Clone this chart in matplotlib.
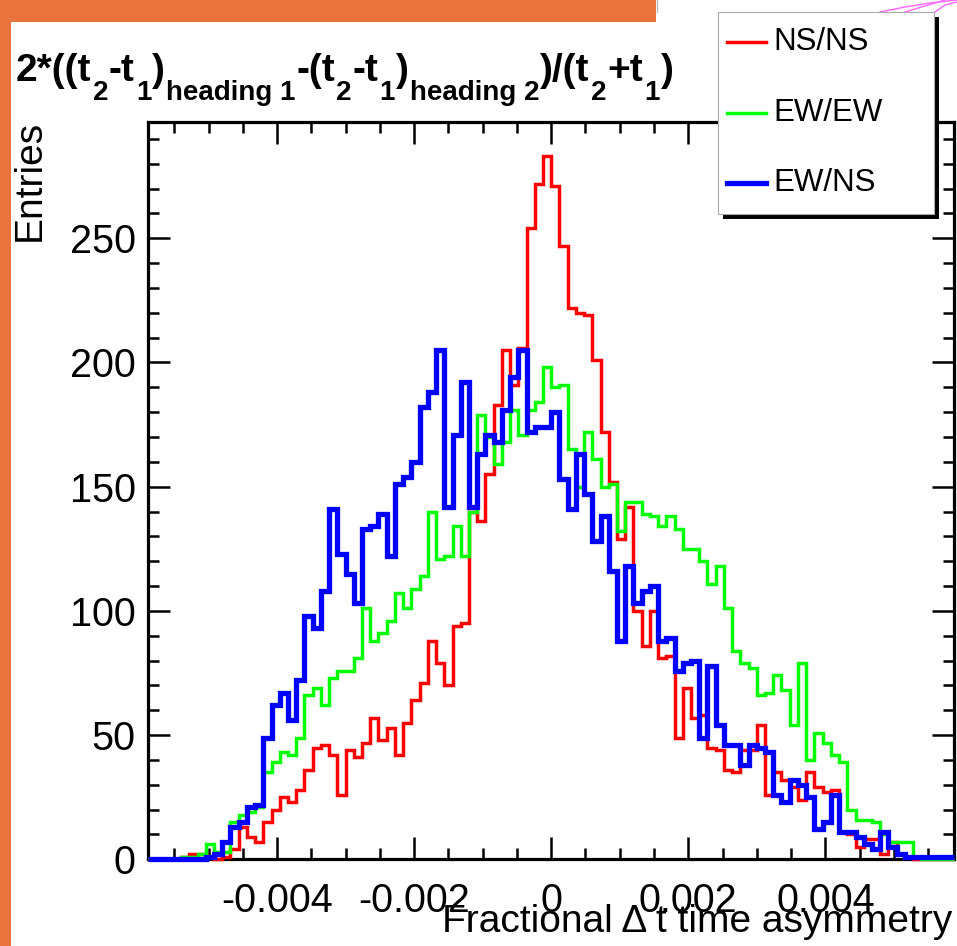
import numpy as np
import matplotlib
matplotlib.use("Agg")
import matplotlib.pyplot as plt
from matplotlib.patches import Rectangle
from matplotlib.lines import Line2D
from matplotlib.ticker import MultipleLocator, FixedLocator

# ---------------- data ----------------
x_range = (-0.00588, 0.00588)
n_bins = 98

ns_ns = [0, 0, 0, 0, 1, 2, 2, 1, 0, 1,
         4, 13, 9, 7, 15, 20, 25, 23, 28, 36,
         45, 46, 42, 26, 44, 41, 47, 57, 48, 53,
         42, 55, 64, 71, 88, 79, 70, 94, 95, 140,
         136, 155, 183, 205, 191, 206, 254, 272, 283, 271,
         247, 222, 220, 219, 201, 172, 152, 129, 142, 100,
         86, 100, 81, 82, 49, 69, 57, 58, 45, 44,
         36, 35, 44, 44, 54, 26, 35, 32, 29, 24,
         35, 29, 27, 28, 11, 10, 5, 8, 8, 2,
         7, 2, 1, 0, 0, 0, 0, 0]

ew_ew = [0, 0, 0, 0, 1, 1, 2, 6, 3, 3,
         15, 18, 19, 21, 35, 39, 43, 42, 49, 66,
         69, 62, 73, 76, 76, 81, 101, 88, 91, 96,
         107, 101, 109, 114, 140, 121, 122, 134, 122, 140,
         179, 170, 159, 168, 181, 171, 181, 184, 198, 190,
         191, 165, 150, 172, 161, 150, 151, 132, 144, 144,
         139, 138, 134, 138, 133, 125, 125, 120, 111, 118,
         101, 84, 79, 77, 66, 67, 74, 68, 54, 79,
         40, 51, 47, 42, 39, 20, 16, 16, 15, 10,
         7, 7, 7, 1, 0, 0, 0, 0]

ew_ns = [0, 0, 0, 0, 0, 0, 0, 1, 2, 7,
         13, 15, 21, 22, 49, 62, 67, 56, 72, 98,
         93, 108, 141, 123, 115, 103, 133, 134, 139, 122,
         151, 154, 160, 182, 188, 205, 142, 171, 192, 142,
         163, 171, 168, 181, 194, 205, 172, 174, 174, 180,
         153, 141, 163, 147, 128, 138, 116, 88, 118, 103,
         108, 110, 88, 89, 76, 79, 80, 49, 78, 54,
         46, 46, 38, 46, 45, 43, 26, 23, 32, 30,
         25, 12, 15, 26, 11, 11, 9, 6, 4, 11,
         5, 2, 1, 1, 1, 1, 1, 1]

series_names = ["NS/NS", "EW/EW", "EW/NS"]
series_colors = ["#ff0000", "#00ff00", "#0000ff"]
x_tick_values = [-0.004, -0.002, 0.0, 0.002, 0.004]
x_tick_labels = ["-0.004", "-0.002", "0", "0.002", "0.004"]
y_tick_values = [0, 50, 100, 150, 200, 250]
y_tick_labels = ["0", "50", "100", "150", "200", "250"]
x_label = "Fractional \u0394 t time asymmetry"
y_label = "Entries"
title_pieces = [("2*((t", "n"), ("2", "s"), ("-t", "n"), ("1", "s"), (")", "n"),
                ("heading 1", "s"), ("-(t", "n"), ("2", "s"), ("-t", "n"), ("1", "s"),
                (")", "n"), ("heading 2", "s"), (")/(t", "n"), ("2", "s"), ("+t", "n"),
                ("1", "s"), (")", "n")]

# ---------------- figure ----------------
W, H = 957, 946
FONT = "Liberation Sans"
plt.rcParams["font.family"] = [FONT, "DejaVu Sans"]

fig = plt.figure(figsize=(W / 100, H / 100), dpi=100)
fig.patch.set_facecolor("white")


def fx(px):
    return px / W


def fy(py):
    return 1 - py / H


ORANGE = "#e8733c"
fig.add_artist(Rectangle((0, fy(22)), fx(656), 22 / H, transform=fig.transFigure,
                         facecolor=ORANGE, edgecolor="none", zorder=0))
fig.add_artist(Rectangle((0, 0), fx(11), 1, transform=fig.transFigure,
                         facecolor=ORANGE, edgecolor="none", zorder=0))
# bits of a neighbouring picture at the top right
fig.add_artist(Line2D([fx(657), fx(657)], [fy(0), fy(12)], transform=fig.transFigure,
                      color="#bbbbbb", lw=1))
for xs, ys in [([880, 905, 930, 957], [12, 7, 3, 0]), ([905, 925, 945], [12, 6, 0]),
               ([935, 945, 957], [12, 5, 2])]:
    fig.add_artist(Line2D([fx(v) for v in xs], [fy(v) for v in ys], transform=fig.transFigure,
                          color="#ff66ff", lw=1))

ax = fig.add_axes([fx(148.2), fy(859.3), fx(954.2 - 148.2), (859.3 - 121.5) / H])
edges = np.linspace(x_range[0], x_range[1], n_bins + 1)
line_widths = [2.5, 2.5, 3.8]
for vals, col, lw, z in zip([ns_ns, ew_ew, ew_ns], series_colors, line_widths, [3, 3.1, 3.2]):
    ax.stairs(vals, edges, baseline=None, color=col, linewidth=lw, zorder=z, clip_on=False)

ax.set_xlim(*x_range)
ax.set_ylim(0, 297)
for s in ax.spines.values():
    s.set_linewidth(2.3)
    s.set_color("black")
ax.xaxis.set_major_locator(FixedLocator(x_tick_values))
ax.set_xticklabels(x_tick_labels)
ax.xaxis.set_minor_locator(MultipleLocator(0.0005))
ax.yaxis.set_major_locator(FixedLocator(y_tick_values))
ax.set_yticklabels(y_tick_labels)
ax.yaxis.set_minor_locator(MultipleLocator(10))
ax.tick_params(which="both", direction="in", top=True, right=True, width=1.8, color="black")
ax.tick_params(which="major", length=16)
ax.tick_params(which="minor", length=8)
ax.tick_params(axis="x", which="major", pad=16, labelsize=28.5)
ax.tick_params(axis="y", which="major", pad=9, labelsize=28.5)

# axis titles
fig.text(fx(952), fy(932), x_label, ha="right", va="baseline", fontsize=28)
fig.text(fx(30), fy(120), y_label, ha="center", va="top", rotation=90, fontsize=28)

# title (ROOT-like with deep subscripts)
renderer = fig.canvas.get_renderer()
x = 16.0
base = 81.0
for txt, kind in title_pieces:
    if kind == "n":
        t = fig.text(fx(x), fy(base), txt, fontsize=28, fontweight="bold", ha="left", va="baseline")
    else:
        t = fig.text(fx(x), fy(base + 19), txt, fontsize=20, fontweight="bold", ha="left", va="baseline")
    bb = t.get_window_extent(renderer)
    x += bb.width + 1

# legend (ROOT TLegend with shadow)
fig.add_artist(Rectangle((fx(723), fy(219)), fx(939 - 723), (219 - 17) / H, transform=fig.transFigure,
                         facecolor="black", edgecolor="none", zorder=5))
fig.add_artist(Rectangle((fx(718), fy(214)), fx(934 - 718), (214 - 12) / H, transform=fig.transFigure,
                         facecolor="white", edgecolor="#aaaaaa", lw=0.8, zorder=6))
for name, col, lw, yy in zip(series_names, series_colors, line_widths, [42, 113, 183]):
    fig.add_artist(Line2D([fx(727), fx(766)], [fy(yy), fy(yy)], transform=fig.transFigure,
                          color=col, lw=lw, zorder=7))
    fig.text(fx(773), fy(yy), name, ha="left", va="center", fontsize=22.5, zorder=7)

fig.savefig("out.png", dpi=100)
